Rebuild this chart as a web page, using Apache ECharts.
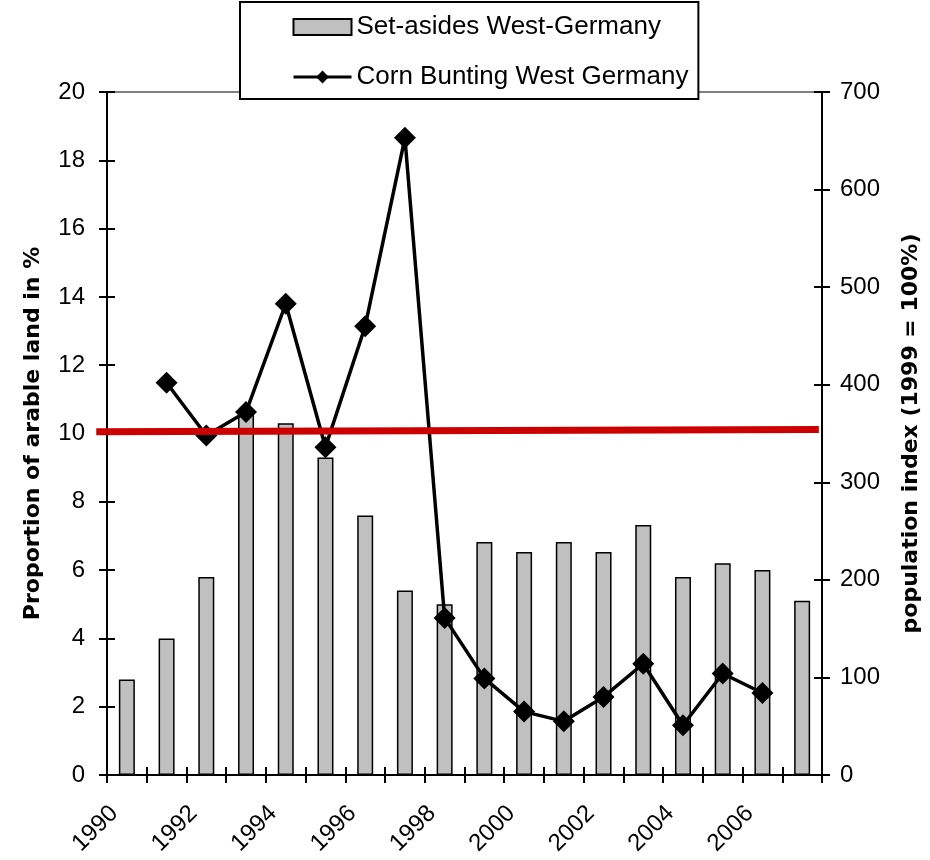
<!DOCTYPE html>
<html>
<head>
<meta charset="utf-8">
<script src="https://cdn.jsdelivr.net/npm/echarts@6/dist/echarts.min.js"></script>
<style>
  html, body { margin: 0; padding: 0; background: #fff; }
  #chart { width: 930px; height: 860px; }
</style>
</head>
<body>
<div id="chart"></div>
<script>
// Years on the category axis
const years = ['1990','1991','1992','1993','1994','1995','1996','1997','1998',
               '1999','2000','2001','2002','2003','2004','2005','2006','2007'];

// Set-aside share of arable land (%), left axis
const setAsides = [2.8, 4.0, 5.8, 10.6, 10.3, 9.3, 7.6, 5.4, 5.0,
                   6.82, 6.53, 6.82, 6.53, 7.32, 5.8, 6.2, 6.0, 5.1];

// Corn Bunting population index (1999 = 100%), right axis
const cornBunting = [null, 402, 348, 372, 483, 336, 460, 653, 161,
                     99, 65, 55, 80, 114, 51, 104, 84, null];

// Reference level line: [category position, percent]
const refLine = [[-0.27, 10.05], [17.92, 10.12]];

// Axis ranges
const leftAxis = { min: 0, max: 20, interval: 2 };
const rightAxis = { min: 0, max: 700, interval: 100 };

const FONT = '"Liberation Sans", Arial, sans-serif';
const TITLE_FONT = '"DejaVu Sans", sans-serif';

const chart = echarts.init(document.getElementById('chart'), null, { renderer: 'canvas' });

const tickStyle = { color: '#000', width: 2 };

chart.setOption({
  animation: false,
  backgroundColor: '#fff',
  grid: {
    left: 107, right: 100, top: 92, bottom: 85,
    show: true, borderColor: '#808080', borderWidth: 2, backgroundColor: 'transparent'
  },
  legend: {
    left: 240, top: 2,
    orient: 'vertical',
    backgroundColor: '#fff',
    borderColor: '#000',
    borderWidth: 2,
    borderRadius: 0,
    padding: [12, 10, 9, 52],
    itemGap: 24,
    itemWidth: 58,
    itemHeight: 16,
    lineStyle: { width: 3 },
    textStyle: { fontFamily: FONT, fontSize: 26, color: '#000' },
    data: [
      { name: 'Set-asides West-Germany', icon: 'rect' },
      { name: 'Corn Bunting West Germany' }
    ]
  },
  xAxis: [
    {
      type: 'category', data: years, position: 'bottom', boundaryGap: true,
      axisLine: { show: true, lineStyle: tickStyle },
      axisTick: { show: true, interval: 0, length: 8, lineStyle: tickStyle },
      axisLabel: {
        interval: 1, rotate: 45, margin: 22, padding: [0, 18, 0, 0],
        fontFamily: FONT, fontSize: 24, color: '#000'
      },
      splitLine: { show: false }
    },
    {
      type: 'value', min: 0, max: 18, show: false
    },
    {
      type: 'category', data: years, position: 'bottom', boundaryGap: true,
      axisLine: { show: false },
      axisTick: { show: true, inside: true, interval: 0, length: 8, lineStyle: tickStyle },
      axisLabel: { show: false },
      splitLine: { show: false }
    }
  ],
  yAxis: [
    {
      type: 'value', position: 'left', ...leftAxis,
      name: 'Proportion of arable land in %', nameLocation: 'middle', nameRotate: 90, nameGap: 63,
      nameTextStyle: { fontFamily: TITLE_FONT, fontWeight: 'bold', fontSize: 22, color: '#000' },
      axisLine: { show: true, lineStyle: tickStyle },
      axisTick: { show: true, length: 8, lineStyle: tickStyle },
      axisLabel: { margin: 22, fontFamily: FONT, fontSize: 24, color: '#000' },
      splitLine: { show: false }
    },
    {
      type: 'value', position: 'right', ...rightAxis,
      name: 'population index (1999 = 100%)', nameLocation: 'middle', nameRotate: 90, nameGap: 78,
      nameTextStyle: { fontFamily: TITLE_FONT, fontWeight: 'bold', fontSize: 22, color: '#000' },
      axisLine: { show: true, lineStyle: tickStyle },
      axisTick: { show: true, length: 8, lineStyle: tickStyle },
      axisLabel: { margin: 18, fontFamily: FONT, fontSize: 24, color: '#000' },
      splitLine: { show: false }
    },
    {
      type: 'value', position: 'left', ...leftAxis,
      axisLine: { show: false },
      axisTick: { show: true, inside: true, length: 8, lineStyle: tickStyle },
      axisLabel: { show: false },
      splitLine: { show: false }
    },
    {
      type: 'value', position: 'right', ...rightAxis,
      axisLine: { show: false },
      axisTick: { show: true, inside: true, length: 8, lineStyle: tickStyle },
      axisLabel: { show: false },
      splitLine: { show: false }
    }
  ],
  series: [
    {
      name: 'Set-asides West-Germany',
      type: 'bar', xAxisIndex: 0, yAxisIndex: 0,
      data: setAsides,
      barWidth: 16,
      itemStyle: { color: '#c0c0c0', borderColor: '#000', borderWidth: 1.5 },
      z: 2
    },
    {
      name: 'Corn Bunting West Germany',
      type: 'line', xAxisIndex: 0, yAxisIndex: 1,
      data: cornBunting,
      connectNulls: false,
      symbol: 'diamond', symbolSize: 22,
      lineStyle: { color: '#000', width: 3.5 },
      itemStyle: { color: '#000' },
      z: 3
    }
  ]
});

// The red reference line runs past the left axis, so it is drawn as a graphic
// whose end points come from the grid's own scales.
const p0 = chart.convertToPixel({ xAxisIndex: 1, yAxisIndex: 0 }, refLine[0]);
const p1 = chart.convertToPixel({ xAxisIndex: 1, yAxisIndex: 0 }, refLine[1]);
chart.setOption({
  graphic: [{
    type: 'line',
    shape: { x1: p0[0], y1: p0[1], x2: p1[0], y2: p1[1] },
    style: { stroke: '#cc0000', lineWidth: 7 },
    silent: true,
    z: 50
  }]
});
</script>
</body>
</html>
